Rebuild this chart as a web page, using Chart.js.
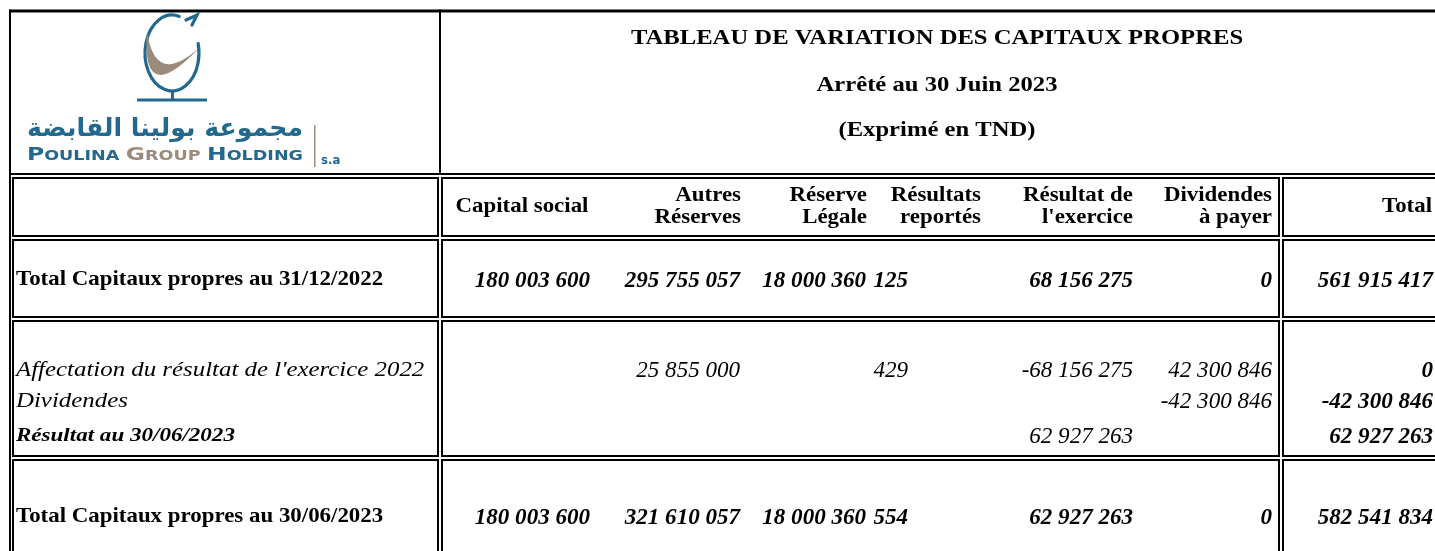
<!DOCTYPE html>
<html>
<head>
<meta charset="utf-8">
<script src="https://cdn.jsdelivr.net/npm/chart.js@4.4.0/dist/chart.umd.min.js"></script>
<style>
  html, body { margin: 0; padding: 0; background: #fff; }
  #wrap { width: 1435px; height: 551px; }
</style>
</head>
<body>
<div id="wrap"><canvas id="tableChart" width="1435" height="551"></canvas></div>
<script>
const titleLines = ['TABLEAU DE VARIATION DES CAPITAUX PROPRES', 'Arrêté au 30 Juin 2023', '(Exprimé en TND)'];
const rowLabels = [
    'Total Capitaux propres au 31/12/2022',
    "Affectation du résultat de l'exercice 2022",
    'Dividendes',
    'Résultat au 30/06/2023',
    'Total Capitaux propres au 30/06/2023'
];
const columnHeaders = [
    ['Capital social'],
    ['Autres', 'Réserves'],
    ['Réserve', 'Légale'],
    ['Résultats', 'reportés'],
    ['Résultat de', "l'exercice"],
    ['Dividendes', 'à payer'],
    ['Total']
];
const capitalSocial     = [180003600, null, null, null, 180003600];
const autresReserves    = [295755057, 25855000, null, null, 321610057];
const reserveLegale     = [18000360, null, null, null, 18000360];
const resultatsReportes = [125, 429, null, null, 554];
const resultatExercice  = [68156275, -68156275, null, 62927263, 62927263];
const dividendes        = [0, 42300846, -42300846, null, 0];
const totalCol          = [561915417, 0, -42300846, 62927263, 582541834];

// --- layout (canvas units) ---
const seriesList = [capitalSocial, autresReserves, reserveLegale, resultatsReportes, resultatExercice, dividendes, totalCol];
const valueRight = [590, 740, 866, 908, 1133, 1272, 1433];
const headerRight = [522, 741, 867, 981, 1133, 1272, 1432];
const rowY = [280, 370, 401, 436, 517];
const labelX = 16;
const rowKind = ['total', 'move', 'move', 'result', 'total'];
const serif = '"Palatino Linotype", "Book Antiqua", "Liberation Serif", serif';

function fmt(v) {
    const s = Math.abs(v).toString().replace(/\B(?=(\d{3})+(?!\d))/g, ' ');
    return (v < 0 ? '-' : '') + s;
}

// draw text a little wider than the fallback font, closer to Palatino
function wideText(ctx, text, x, y, font, align, stretch) {
    ctx.save();
    ctx.font = font;
    ctx.textAlign = align;
    ctx.translate(x, y);
    ctx.scale(stretch, 1);
    ctx.fillText(text, 0, 0);
    ctx.restore();
}

const datasets = seriesList.map(function (vals, c) {
    const pts = [];
    vals.forEach(function (v, r) {
        if (v !== null) pts.push({ x: valueRight[c], y: rowY[r], v: v, r: r });
    });
    return { label: columnHeaders[c].join(' '), data: pts, pointRadius: 0, col: c };
});
datasets.push({
    label: 'labels',
    data: rowLabels.map(function (t, r) { return { x: labelX, y: rowY[r], t: t, r: r }; }),
    pointRadius: 0,
    col: -1
});

// table frame, logo, titles and headers
const framePlugin = {
    id: 'frame',
    beforeDatasetsDraw(chart) {
        const ctx = chart.ctx;
        const sx = chart.scales.x, sy = chart.scales.y;
        const X = v => sx.getPixelForValue(v);
        const Y = v => sy.getPixelForValue(v);
        ctx.save();
        ctx.fillStyle = '#000';
        // outer lines
        ctx.fillRect(X(9), Y(9.5), X(1435) - X(9), 3);
        ctx.fillRect(X(9), Y(9.5), 2, Y(551) - Y(9.5));
        ctx.fillRect(X(439), Y(9.5), 2, Y(175) - Y(9.5));
        ctx.fillRect(X(9), Y(173), X(1435) - X(9), 2);
        // cell boxes
        const colB = [[13, 438], [442, 1279], [1283, 1500]];
        const rowB = [[178, 236], [240, 317], [321, 456], [460, 600]];
        ctx.strokeStyle = '#000';
        ctx.lineWidth = 2;
        rowB.forEach(function (rb) {
            colB.forEach(function (cb) {
                ctx.strokeRect(X(cb[0]), Y(rb[0]), X(cb[1]) - X(cb[0]), Y(rb[1]) - Y(rb[0]));
            });
        });

        // titles
        ctx.textBaseline = 'middle';
        [38, 85, 130].forEach(function (y, i) {
            wideText(ctx, titleLines[i], X(937), Y(y), 'bold 22px ' + serif, 'center', 1.12);
        });

        // column headers
        const hf = 'bold 21px ' + serif;
        columnHeaders.forEach(function (lines, c) {
            if (lines.length === 1) {
                wideText(ctx, lines[0], X(headerRight[c]), Y(207), hf, c === 0 ? 'center' : 'right', 1.09);
            } else {
                wideText(ctx, lines[0], X(headerRight[c]), Y(196), hf, 'right', 1.09);
                wideText(ctx, lines[1], X(headerRight[c]), Y(218), hf, 'right', 1.09);
            }
        });

        // logo
        const blue = '#23698e', grey = '#9b8b7c';
        ctx.lineCap = 'round';
        ctx.strokeStyle = blue;
        ctx.lineWidth = 3.2;
        ctx.beginPath();
        ctx.ellipse(X(172), Y(53), 27, 38, 0, -1.3, -0.25 - 2 * Math.PI, true);
        ctx.stroke();
        ctx.beginPath();
        ctx.moveTo(X(186), Y(20));
        ctx.lineTo(X(197), Y(15));
        ctx.lineTo(X(192), Y(25));
        ctx.stroke();
        ctx.fillStyle = grey;
        ctx.beginPath();
        ctx.moveTo(X(147), Y(31));
        ctx.quadraticCurveTo(X(141), Y(110), X(200), Y(47));
        ctx.quadraticCurveTo(X(155), Y(88), X(147), Y(31));
        ctx.fill();
        ctx.lineCap = 'butt';
        ctx.fillStyle = blue;
        ctx.fillRect(X(171), Y(90), 3, 10);
        ctx.fillRect(X(137), Y(98.5), 70, 3);

        // arabic name, fitted to its width
        ctx.textAlign = 'left';
        ctx.textBaseline = 'alphabetic';
        ctx.font = 'bold 30px "DejaVu Sans"';
        const ar = 'مجموعة بولينا القابضة';
        const arW = ctx.measureText(ar).width;
        ctx.save();
        ctx.translate(X(27), Y(136));
        ctx.scale(276 / arW, 0.85);
        ctx.fillStyle = blue;
        ctx.fillText(ar, 0, 0);
        ctx.restore();

        // latin name
        const words = [['POULINA', blue], ['GROUP', grey], ['HOLDING', blue]];
        ctx.save();
        ctx.translate(X(27), Y(160));
        let cx = 0;
        const parts = [];
        words.forEach(function (w) {
            ctx.font = 'bold 18px "DejaVu Sans"';
            parts.push([w[0][0], cx, 18, w[1]]);
            cx += ctx.measureText(w[0][0]).width;
            ctx.font = 'bold 13.5px "DejaVu Sans"';
            parts.push([w[0].slice(1), cx, 13.5, w[1]]);
            cx += ctx.measureText(w[0].slice(1)).width + 5;
        });
        ctx.scale(276 / (cx - 5), 1);
        parts.forEach(function (p) {
            ctx.font = 'bold ' + p[2] + 'px "DejaVu Sans"';
            ctx.fillStyle = p[3];
            ctx.fillText(p[0], p[1], 0);
        });
        ctx.restore();
        ctx.fillStyle = grey;
        ctx.fillRect(X(314), Y(125), 1.5, 42);
        ctx.fillStyle = blue;
        ctx.font = 'bold 13px "DejaVu Sans Condensed", "DejaVu Sans"';
        ctx.fillText('s.a', X(321), Y(164));
        ctx.restore();
    }
};

// cell texts placed at the points of each dataset
const cellPlugin = {
    id: 'cells',
    afterDatasetsDraw(chart) {
        const ctx = chart.ctx;
        ctx.save();
        ctx.fillStyle = '#000';
        ctx.textBaseline = 'middle';
        chart.data.datasets.forEach(function (ds, i) {
            const meta = chart.getDatasetMeta(i);
            meta.data.forEach(function (el, j) {
                const d = ds.data[j];
                const kind = rowKind[d.r];
                if (ds.col === -1) {
                    if (kind === 'total') wideText(ctx, d.t, el.x, el.y, 'bold 21px ' + serif, 'left', 1.09);
                    else if (kind === 'result') wideText(ctx, d.t, el.x, el.y, 'italic bold 18px ' + serif, 'left', 1.28);
                    else wideText(ctx, d.t, el.x, el.y, 'italic 22px ' + serif, 'left', 1.13);
                } else {
                    const bold = kind === 'total' || ds.col === 6;
                    wideText(ctx, fmt(d.v), el.x, el.y + 1, 'italic ' + (bold ? 'bold ' : '') + '24px ' + serif, 'right', 0.96);
                }
            });
        });
        ctx.restore();
    }
};

new Chart(document.getElementById('tableChart').getContext('2d'), {
    type: 'scatter',
    data: { datasets: datasets },
    options: {
        responsive: false,
        animation: false,
        events: [],
        layout: { padding: 0 },
        scales: {
            x: { type: 'linear', min: 0, max: 1435, display: false },
            y: { type: 'linear', min: 0, max: 551, reverse: true, display: false }
        },
        plugins: {
            legend: { display: false },
            tooltip: { enabled: false }
        }
    },
    plugins: [framePlugin, cellPlugin]
});
</script>
</body>
</html>
